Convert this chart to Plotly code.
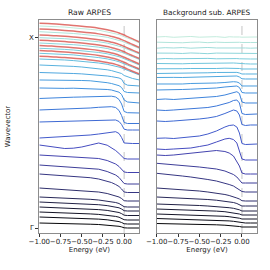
import plotly.graph_objects as go
from plotly.subplots import make_subplots

energy = [-1.0, -0.9, -0.8, -0.7, -0.6, -0.5, -0.4, -0.3, -0.2, -0.15, -0.1, -0.06, -0.03, 0.0, 0.04, 0.1, 0.18]

# waterfall offsets (arb. units), ordered top (X) -> bottom (Gamma)
raw_offsets = [190, 184.5, 179, 173.5, 168, 163, 158, 153, 147, 140, 130, 120, 109.5, 103, 89.5, 74, 60.5, 49, 40.5, 32, 26, 22, 17.5, 13, 9, 5]
sub_offsets = [196, 190.5, 185, 179.5, 174, 169, 164, 159, 154, 147, 140, 130, 119, 108, 89, 73, 59, 50, 41, 32, 27, 22, 18, 14, 10, 6]

# raw spectra (intensity above each offset)
raw_profiles = [
    [17, 16.8, 16.2, 15.9, 15.1, 14.6, 13.6, 12.8, 11.2, 10.5, 9.2, 8.4, 7.3, 6.5, 4.9, 3.0, 0],
    [16.8, 16.5, 16.1, 15.6, 15.0, 14.2, 13.6, 12.4, 11.2, 10.2, 9.2, 8.2, 7.3, 6.3, 5.0, 2.9, 0],
    [16.3, 16.1, 15.6, 15.3, 14.6, 14.0, 13.1, 12.2, 10.9, 10.0, 9.0, 8.0, 7.1, 6.1, 4.7, 2.8, 0],
    [16.5, 16.2, 15.9, 15.3, 14.8, 14.1, 13.4, 12.3, 11.0, 10.1, 9.1, 8.1, 7.2, 6.2, 4.8, 2.8, 0],
    [16.7, 16.5, 16.0, 15.6, 15.0, 14.3, 13.5, 12.5, 11.2, 10.3, 9.3, 8.3, 7.3, 6.3, 4.9, 2.9, 0],
    [16.7, 16.4, 16.1, 15.5, 15.1, 14.2, 13.6, 12.4, 11.1, 10.4, 9.2, 8.2, 7.4, 6.2, 4.8, 2.8, 0],
    [16, 15.8, 15.3, 15.0, 14.4, 13.8, 13.0, 12.0, 10.7, 9.9, 8.9, 7.9, 7.0, 6.0, 4.6, 2.7, 0],
    [15, 14.8, 14.5, 14.0, 13.6, 13.0, 12.3, 11.4, 10.2, 9.4, 8.5, 7.6, 6.5, 4.5, 3.0, 1.5, 0],
    [13.5, 13.4, 13.1, 12.8, 12.5, 12.1, 11.6, 11.0, 10.0, 9.4, 8.7, 8.0, 6.8, 2.5, 0.8, 0.3, 0],
    [13, 13, 12.8, 12.9, 12.6, 12.5, 12.2, 11.5, 10.3, 9.5, 8.5, 7.3, 5.5, 1.5, 0.5, 0.2, 0],
    [15, 14.7, 15, 14.6, 14.8, 14.5, 14.6, 14.2, 13.5, 13, 12, 10.8, 8.5, 3, 1, 0.3, 0],
    [14.5, 15, 15.2, 15.5, 15.8, 16, 16.2, 16.6, 17, 16.8, 16, 13.5, 9, 1.5, 0.3, 0, 0],
    [13.5, 13.8, 14.2, 14.3, 14.5, 15, 15.5, 16.2, 16.8, 16.8, 16, 13, 8, 1, 0, 0, 0],
    [8, 8.2, 8.3, 8.5, 8.8, 9, 9.3, 9.6, 10, 10.2, 10, 8.5, 5.5, 0.8, 0, 0, 0],
    [5.5, 6, 6.3, 6.5, 7, 7.5, 8.5, 9.5, 11, 11.5, 11.8, 10, 6, 0.5, 0, 0, 0],
    [14, 12.8, 11.5, 10.5, 10.8, 12, 14, 16, 13.8, 11.5, 8.5, 5.5, 3, 0.5, 0, 0, 0],
    [17.5, 17, 16.8, 16.5, 16, 15.5, 15, 14, 12, 10.5, 8.5, 6, 3.5, 0.5, 0, 0, 0],
    [19, 18.5, 18, 17.5, 17, 16.5, 15.8, 14.8, 12.5, 11, 9, 6.5, 4, 0.5, 0, 0, 0],
    [18.5, 18, 17.5, 17, 16.5, 15.5, 14.8, 13.5, 11.5, 10, 8, 6, 3.5, 0.5, 0, 0, 0],
    [13, 12.5, 12, 11.5, 11, 10.5, 10, 9, 7.5, 6.5, 5.5, 4, 2.5, 0.3, 0, 0, 0],
    [10, 9.7, 9.3, 9, 8.6, 8.2, 7.7, 7, 6, 5.3, 4.5, 3.5, 2.2, 0.3, 0, 0, 0],
    [9, 8.7, 8.4, 8, 7.7, 7.3, 6.9, 6.3, 5.4, 4.8, 4, 3.2, 2, 0.3, 0, 0, 0],
    [8.5, 8.2, 7.9, 7.6, 7.2, 6.9, 6.5, 5.9, 5.1, 4.5, 3.8, 3, 1.9, 0.3, 0, 0, 0],
    [8, 7.8, 7.5, 7.2, 6.8, 6.5, 6.1, 5.6, 4.8, 4.2, 3.6, 2.8, 1.8, 0.3, 0, 0, 0],
    [7, 6.8, 6.6, 6.3, 6, 5.7, 5.3, 4.9, 4.2, 3.7, 3.1, 2.4, 1.5, 0.3, 0, 0, 0],
    [5, 4.9, 4.7, 4.5, 4.3, 4.1, 3.8, 3.5, 3, 2.6, 2.2, 1.7, 1.1, 0.2, 0, 0, 0],
]

# background fits drawn over the top rows of the raw panel
fit_profiles = [
    [19.8, 19.4, 18.9, 18.3, 17.6, 16.8, 15.9, 14.8, 13.3, 12.3, 11.1, 10.0, 9.0, 8.0, 6.3, 4.1, 1.0],
    [19.6, 19.2, 18.7, 18.1, 17.4, 16.6, 15.7, 14.6, 13.1, 12.1, 11.0, 9.9, 8.9, 7.9, 6.2, 4.0, 1.0],
    [19.1, 18.7, 18.3, 17.7, 17.0, 16.2, 15.3, 14.2, 12.8, 11.8, 10.7, 9.6, 8.6, 7.6, 6.0, 3.9, 1.0],
    [19.3, 18.9, 18.5, 17.9, 17.2, 16.4, 15.5, 14.4, 12.9, 11.9, 10.8, 9.7, 8.7, 7.7, 6.1, 3.9, 1.0],
    [19.5, 19.1, 18.6, 18.0, 17.3, 16.5, 15.6, 14.5, 13.0, 12.0, 10.9, 9.8, 8.8, 7.8, 6.2, 4.0, 1.0],
    [19.5, 19.1, 18.6, 18.0, 17.3, 16.5, 15.6, 14.5, 13.0, 12.0, 10.9, 9.8, 8.8, 7.8, 6.1, 3.9, 1.0],
    [18.8, 18.4, 18.0, 17.4, 16.8, 16.0, 15.1, 14.1, 12.6, 11.7, 10.6, 9.5, 8.5, 7.5, 5.9, 3.8, 1.0],
]

# background-subtracted spectra (intensity above each offset)
sub_profiles = [
    [0, 0.4, -0.3, 0.2, 0.5, -0.2, 0, 0.3, -0.4, 0.2, 0, 0.3, 0, -0.2, 0, 0.2, 0],
    [0.3, 0, 0.4, -0.3, 0.2, 0.4, -0.2, 0.3, 0, 0.2, -0.3, 0, 0.2, 0, 0.3, 0, 0],
    [-0.2, 0.3, 0, 0.4, -0.2, 0.3, 0.5, 0, 0.2, -0.2, 0.3, 0.2, 0, 0.2, 0, -0.2, 0],
    [0.4, 0, 0.3, 0, 0.5, 0.2, -0.2, 0.4, 0.3, 0, 0.4, 0.2, -0.2, 0, 0.2, 0, 0],
    [0, 0.5, 0.2, 0.4, 0, 0.3, 0.6, 0.2, 0.5, 0.3, 0.6, 0.4, 0.2, 0, -0.2, 0, 0],
    [0.5, 0.3, 0.6, 0.2, 0.5, 0.7, 0.4, 0.8, 0.6, 0.9, 1.0, 0.8, 0.5, 0, 0.2, 0, 0],
    [0.2, 0, 0.4, 0.3, 0.5, 0.3, 0.6, 0.5, 0.8, 0.8, 1, 0.8, 0.5, 0, 0, 0.2, 0],
    [0.5, 0.5, 0.8, 0.6, 0.9, 1, 1.2, 1.5, 1.8, 2, 2, 1.6, 1, 0, 0, 0, 0],
    [1.5, 1.2, 1.6, 1.5, 1.8, 2, 2.3, 2.6, 3, 3.3, 3.4, 3, 2, 0.2, 0, 0, 0],
    [2, 2, 1.5, 2, 2.5, 2.5, 3, 3, 3.5, 4, 4.3, 4, 3, 0, 0, 0, 0],
    [3, 3, 3.3, 3.5, 3.8, 4, 4.5, 5, 6, 6.5, 7, 7, 5.5, 0.5, 0, 0, 0],
    [3.5, 4, 3.5, 4, 4.5, 5, 5.5, 6.5, 8, 9, 10.5, 11.3, 9.5, 1, 0, 0, 0],
    [4, 3.5, 4, 4.5, 5, 5.5, 6.5, 8, 10, 11.5, 13.5, 14, 11, 0.5, -0.5, 0, 0],
    [4, 3.5, 4, 4.5, 5, 6, 7, 8.5, 11.5, 13.5, 15, 14, 10, 0.5, -0.5, 0, 0],
    [5.7, 6, 5.5, 6.5, 7, 8, 10, 13, 17, 18.5, 19, 17, 11, 0.5, -0.5, 0, 0],
    [11, 10.5, 11, 11.5, 12, 13.5, 15, 18, 21, 21.7, 20.5, 17, 10, 1, 0, 0, 0],
    [19, 18.5, 19, 20, 21, 21.5, 23, 23.5, 22.5, 21, 18, 13, 8, 1, 0, 0, 0],
    [19.7, 19, 18.5, 18, 17, 16, 15, 14, 12, 10.5, 8.5, 6, 3, 0, 0, 0, 0],
    [18.7, 18, 17, 16, 15, 14, 12.5, 11, 9, 7.5, 6, 4, 2, 0.5, 0, 0, 0],
    [13, 12.5, 12, 11.5, 10.5, 10, 9, 8, 6.5, 5.5, 4.5, 3, 2, 0.3, 0, 0, 0],
    [9, 8.7, 8.3, 8, 7.5, 7, 6.5, 5.8, 4.8, 4.2, 3.5, 2.5, 1.5, 0, 0, 0, 0],
    [7, 6.8, 6.5, 6.2, 5.8, 5.5, 5, 4.5, 3.8, 3.3, 2.7, 2, 1.2, 0, 0, 0, 0],
    [6, 5.8, 5.5, 5.3, 5, 4.7, 4.3, 3.9, 3.3, 2.8, 2.3, 1.7, 1, 0, 0, 0, 0],
    [5, 4.8, 4.6, 4.4, 4.1, 3.9, 3.6, 3.2, 2.7, 2.3, 1.9, 1.4, 0.8, 0, 0, 0, 0],
    [4.5, 4.3, 4.1, 3.9, 3.7, 3.4, 3.2, 2.8, 2.4, 2.1, 1.7, 1.2, 0.7, 0, 0, 0, 0],
    [3.5, 3.4, 3.2, 3, 2.8, 2.6, 2.4, 2.2, 1.8, 1.6, 1.3, 1, 0.5, 0, 0, 0, 0],
]

# colours, top (X) -> bottom (Gamma)
colors = [
    "#c2ebdc", "#b0e4da", "#9fdcd9", "#8ed5da", "#7ecddb", "#70c5dc", "#63bcdd", "#58b2de",
    "#4fa7df", "#489cdf", "#4290de", "#3e84dc", "#3c77d8", "#3e69d3", "#425acb", "#454cc0",
    "#4343ae", "#3d3d98", "#363682", "#2f2f6c", "#282858", "#212145", "#1a1a34", "#131325",
    "#0c0c17", "#050508",
]
fit_color = "rgba(214,62,55,0.72)"

gamma_pos = 5
x_pos = 195

fig = make_subplots(rows=1, cols=2, horizontal_spacing=0.0)

for i in range(len(raw_offsets)):
    fig.add_trace(go.Scatter(x=energy, y=[raw_offsets[i] + v for v in raw_profiles[i]], mode="lines",
                             line=dict(color=colors[i], width=1.0), showlegend=False), row=1, col=1)
    if i < len(fit_profiles):
        fig.add_trace(go.Scatter(x=energy, y=[raw_offsets[i] + v for v in fit_profiles[i]], mode="lines",
                                 line=dict(color=fit_color, width=1.5, shape="spline"), showlegend=False),
                      row=1, col=1)
    fig.add_trace(go.Scatter(x=energy, y=[sub_offsets[i] + v for v in sub_profiles[i]], mode="lines",
                             line=dict(color=colors[i], width=1.0), showlegend=False), row=1, col=2)

font = "DejaVu Sans"
txt = "#222222"
xt = [-1.0, -0.75, -0.5, -0.25, 0.0]
xtt = ["\u22121.00", "\u22120.75", "\u22120.50", "\u22120.25", "0.00"]
for c, dom in ((1, [0.1456, 0.5163]), (2, [0.5804, 0.953])):
    fig.update_xaxes(row=1, col=c, domain=dom, range=[-1.0, 0.18], tickvals=xt, ticktext=xtt, tickangle=0,
                     automargin=False, ticks="outside", ticklen=3, tickwidth=0.8, tickcolor="#333",
                     ticklabelstandoff=-1,
                     showline=True, mirror=True, linecolor="#8c8c8c", linewidth=1,
                     showgrid=False, zeroline=False, tickfont=dict(family=font, size=7, color=txt),
                     title=dict(text="Energy (eV)", font=dict(family=font, size=7, color=txt), standoff=1))
    fig.update_yaxes(row=1, col=c, domain=[0.137, 0.926], range=[0, 213], showline=True, mirror=True,
                     automargin=False, linecolor="#8c8c8c", linewidth=1, showgrid=False, zeroline=False)
    fig.add_shape(type="line", xref=f"x{'' if c == 1 else c}", yref=f"y{'' if c == 1 else c} domain",
                  x0=0, x1=0, y0=0, y1=1, line=dict(color="#c4c4c4", width=1, dash="dash"), layer="below")

fig.update_yaxes(row=1, col=1, tickvals=[gamma_pos, x_pos], ticktext=["\u0393", "X"], ticks="outside",
                 ticklen=3, tickwidth=0.8, tickcolor="#333", tickfont=dict(family=font, size=7, color=txt),
                 title=dict(text="Wavevector", font=dict(family=font, size=7, color=txt), standoff=17))
fig.update_yaxes(row=1, col=2, showticklabels=False, ticks="")

fig.add_annotation(text="Raw ARPES", x=0.331, y=0.952, xref="paper", yref="paper", showarrow=False,
                   xanchor="center", yanchor="middle", font=dict(family=font, size=7.6, color=txt))
fig.add_annotation(text="Background sub. ARPES", x=0.7667, y=0.952, xref="paper", yref="paper",
                   showarrow=False, xanchor="center", yanchor="middle",
                   font=dict(family=font, size=7.3, color=txt))

fig.update_layout(width=270, height=270, margin=dict(l=0, r=0, t=0, b=0),
                  paper_bgcolor="white", plot_bgcolor="white")
fig.write_html("out.html", config={"displayModeBar": False}, post_script="document.body.style.margin='0';")
